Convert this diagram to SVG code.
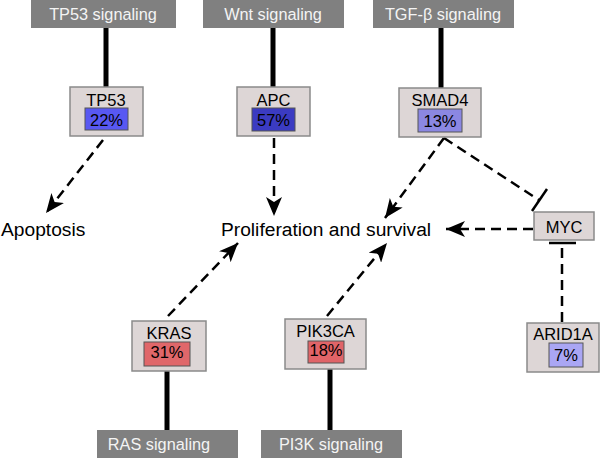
<svg xmlns="http://www.w3.org/2000/svg" width="606" height="458" viewBox="0 0 606 458">
<defs>
<style>
.bar{fill:#808080}
.bart{font-family:"Liberation Sans",Arial,sans-serif;font-size:16.3px;fill:#f4f4f4;text-anchor:middle}
.node{fill:#ddd6d6;stroke:#8a8a8a;stroke-width:1.5}
.nt{font-family:"Liberation Sans",Arial,sans-serif;font-size:16.5px;fill:#000;text-anchor:middle}
.big{font-family:"Liberation Sans",Arial,sans-serif;font-size:19.2px;fill:#000}
.pct{stroke:#555;stroke-width:1}
.thick{stroke:#000;stroke-width:5;fill:none}
.dash{stroke:#000;stroke-width:2.5;fill:none;stroke-dasharray:10 6}
.inh{stroke:#000;stroke-width:2.5;fill:none}
</style>
<marker id="arr" markerWidth="20" markerHeight="16" refX="19" refY="8" orient="auto" markerUnits="userSpaceOnUse">
<path d="M0,0 L19,8 L0,16 L5,8 z" fill="#000"/>
</marker>
</defs>
<rect width="606" height="458" fill="#fff"/>

<g id="connectors">
<line class="thick" x1="106" y1="28" x2="106" y2="87"/>
<line class="thick" x1="273" y1="28" x2="273" y2="87"/>
<line class="thick" x1="441" y1="28" x2="441" y2="88"/>
<line class="thick" x1="167" y1="371" x2="167" y2="430"/>
<line class="thick" x1="330" y1="369" x2="330" y2="430"/>
<line class="dash" x1="103" y1="140" x2="46" y2="213" marker-end="url(#arr)"/>
<line class="dash" x1="274" y1="138" x2="274" y2="216" marker-end="url(#arr)"/>
<line class="dash" x1="444" y1="138" x2="385" y2="218" marker-end="url(#arr)"/>
<line class="dash" x1="168" y1="316" x2="238" y2="243" marker-end="url(#arr)"/>
<line class="dash" x1="327" y1="316" x2="387" y2="243" marker-end="url(#arr)"/>
<line class="dash" x1="533" y1="229" x2="446" y2="229" marker-end="url(#arr)"/>
<line class="dash" x1="444" y1="138" x2="539" y2="200"/>
<line class="inh" x1="547" y1="189" x2="532" y2="211"/>
<line class="dash" x1="562" y1="322" x2="562" y2="245"/>
<line class="inh" x1="549" y1="243" x2="576" y2="243"/>
</g>

<g id="tp53-signaling"><rect class="bar" x="31" y="0" width="145" height="28"/><text class="bart" x="103" y="20">TP53 signaling</text></g>
<g id="wnt-signaling"><rect class="bar" x="203" y="0" width="141" height="28"/><text class="bart" x="273" y="20">Wnt signaling</text></g>
<g id="tgfb-signaling"><rect class="bar" x="373" y="0" width="141" height="28"/><text class="bart" x="443" y="20">TGF-β signaling</text></g>
<g id="ras-signaling"><rect class="bar" x="97" y="430" width="141" height="28"/><text class="bart" x="159" y="450">RAS signaling</text></g>
<g id="pi3k-signaling"><rect class="bar" x="261" y="430" width="141" height="28"/><text class="bart" x="331" y="450">PI3K signaling</text></g>

<g id="tp53"><rect class="node" x="70" y="87" width="73" height="49"/><text class="nt" x="106" y="106">TP53</text><rect class="pct" x="85" y="108" width="43" height="22" fill="#5858f2"/><text class="nt" x="106.5" y="126">22%</text></g>
<g id="apc"><rect class="node" x="237" y="87" width="73" height="49"/><text class="nt" x="273.5" y="106">APC</text><rect class="pct" x="252" y="108" width="43" height="23" fill="#3b3bc2"/><text class="nt" x="273.5" y="126">57%</text></g>
<g id="smad4"><rect class="node" x="399" y="88" width="82" height="49"/><text class="nt" x="440" y="106">SMAD4</text><rect class="pct" x="418" y="109" width="44" height="23" fill="#8b87e2"/><text class="nt" x="440" y="127">13%</text></g>
<g id="myc"><rect class="node" x="534" y="212" width="60" height="28"/><text class="nt" x="564" y="233">MYC</text></g>
<g id="arid1a"><rect class="node" x="527" y="323" width="72" height="49"/><text class="nt" x="563" y="340">ARID1A</text><rect class="pct" x="549" y="343" width="34" height="24" fill="#aaa6f4"/><text class="nt" x="566" y="361">7%</text></g>
<g id="kras"><rect class="node" x="132" y="321" width="74" height="50"/><text class="nt" x="169" y="339">KRAS</text><rect class="pct" x="144" y="342" width="46" height="24" fill="#e0676a"/><text class="nt" x="167" y="358">31%</text></g>
<g id="pik3ca"><rect class="node" x="285" y="319" width="81" height="50"/><text class="nt" x="325.5" y="337">PIK3CA</text><rect class="pct" x="308" y="341" width="36" height="22" fill="#e06468"/><text class="nt" x="326" y="356">18%</text></g>

<g id="apoptosis"><text class="big" x="1" y="236">Apoptosis</text></g>
<g id="proliferation"><text class="big" x="221" y="236">Proliferation and survival</text></g>
</svg>
